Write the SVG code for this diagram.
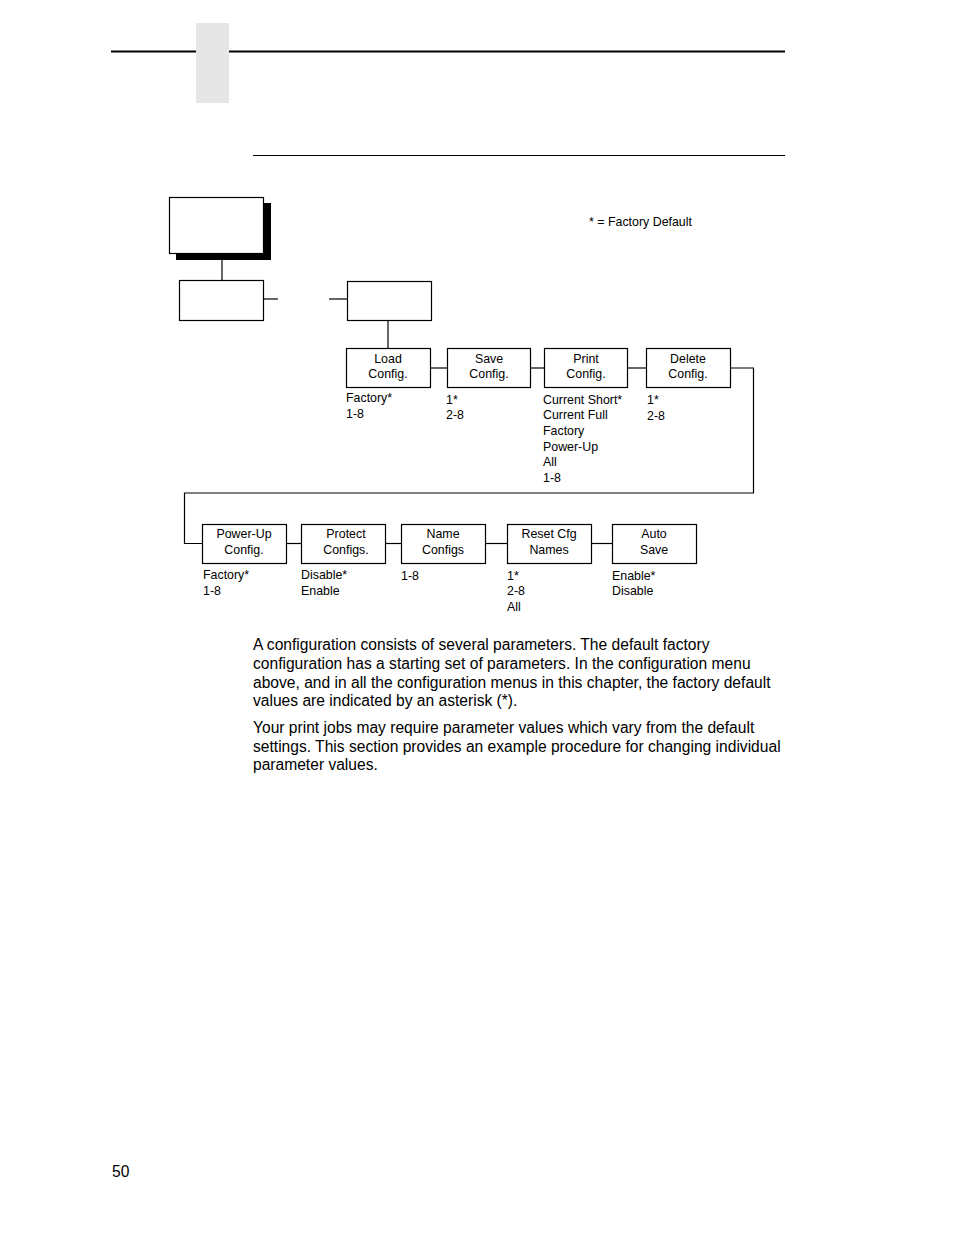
<svg xmlns="http://www.w3.org/2000/svg" width="954" height="1235" viewBox="0 0 954 1235">
<style>
.bx{fill:#fff;stroke:#000;stroke-width:1.2}
.ln{fill:none;stroke:#000;stroke-width:1.2}
.t{font-family:"Liberation Sans",Arial,sans-serif;font-size:12.4px;fill:#000}
.c{text-anchor:middle}
.body{font-family:"Liberation Sans",Arial,sans-serif;font-size:15.6px;fill:#000}
</style>
<rect width="954" height="1235" fill="#fff"/>
<g id="header">
<rect x="196" y="23" width="33" height="80" fill="#e6e6e6"/>
<line x1="111" y1="51.5" x2="196" y2="51.5" stroke="#000" stroke-width="2"/>
<line x1="229" y1="51.5" x2="785" y2="51.5" stroke="#000" stroke-width="2"/>
<line x1="253" y1="155.5" x2="785" y2="155.5" stroke="#000" stroke-width="1"/>
</g>
<g id="connectors">
<line class="ln" x1="222" y1="260" x2="222" y2="280"/>
<line class="ln" x1="264" y1="299" x2="278" y2="299"/>
<line class="ln" x1="329" y1="299" x2="347" y2="299"/>
<line class="ln" x1="388" y1="320" x2="388" y2="348"/>
<line class="ln" x1="430" y1="368" x2="447" y2="368"/>
<line class="ln" x1="531" y1="368" x2="544" y2="368"/>
<line class="ln" x1="628" y1="368" x2="646" y2="368"/>
<polyline class="ln" points="730,368 753.5,368 753.5,493 184.5,493 184.5,543.5 202,543.5"/>
<line class="ln" x1="286" y1="543.5" x2="301" y2="543.5"/>
<line class="ln" x1="385" y1="543.5" x2="401" y2="543.5"/>
<line class="ln" x1="485" y1="543.5" x2="507" y2="543.5"/>
<line class="ln" x1="591" y1="543.5" x2="612" y2="543.5"/>
</g>
<g id="main">
<rect x="176" y="203" width="95" height="57" fill="#000"/>
<rect class="bx" x="169.5" y="197.5" width="94" height="56"/>
</g>
<g id="box2"><rect class="bx" x="179.5" y="280.5" width="84" height="40"/></g>
<g id="box3"><rect class="bx" x="347.5" y="281.5" width="84" height="39"/></g>
<g id="legend"><text class="t" x="589" y="226">* = Factory Default</text></g>
<g id="load">
<rect class="bx" x="346.5" y="348.5" width="84" height="39"/>
<text class="t c" x="388" y="363">Load</text>
<text class="t c" x="388" y="378">Config.</text>
<text class="t" x="346" y="402">Factory*</text>
<text class="t" x="346" y="418">1-8</text>
</g>
<g id="save">
<rect class="bx" x="447.5" y="348.5" width="83" height="39"/>
<text class="t c" x="489" y="363">Save</text>
<text class="t c" x="489" y="378">Config.</text>
<text class="t" x="446" y="404">1*</text>
<text class="t" x="446" y="419">2-8</text>
</g>
<g id="print">
<rect class="bx" x="544.5" y="348.5" width="83" height="39"/>
<text class="t c" x="586" y="363">Print</text>
<text class="t c" x="586" y="378">Config.</text>
<text class="t" x="543" y="404">Current Short*</text>
<text class="t" x="543" y="419">Current Full</text>
<text class="t" x="543" y="435">Factory</text>
<text class="t" x="543" y="451">Power-Up</text>
<text class="t" x="543" y="466">All</text>
<text class="t" x="543" y="482">1-8</text>
</g>
<g id="delete">
<rect class="bx" x="646.5" y="348.5" width="84" height="39"/>
<text class="t c" x="688" y="363">Delete</text>
<text class="t c" x="688" y="378">Config.</text>
<text class="t" x="647" y="404">1*</text>
<text class="t" x="647" y="420">2-8</text>
</g>
<g id="powerup">
<rect class="bx" x="202.5" y="524.5" width="84" height="39"/>
<text class="t c" x="244" y="538">Power-Up</text>
<text class="t c" x="244" y="554">Config.</text>
<text class="t" x="203" y="579">Factory*</text>
<text class="t" x="203" y="595">1-8</text>
</g>
<g id="protect">
<rect class="bx" x="301.5" y="524.5" width="84" height="39"/>
<text class="t c" x="346" y="538">Protect</text>
<text class="t c" x="346" y="554">Configs.</text>
<text class="t" x="301" y="579">Disable*</text>
<text class="t" x="301" y="595">Enable</text>
</g>
<g id="name">
<rect class="bx" x="401.5" y="524.5" width="84" height="39"/>
<text class="t c" x="443" y="538">Name</text>
<text class="t c" x="443" y="554">Configs</text>
<text class="t" x="401" y="580">1-8</text>
</g>
<g id="reset">
<rect class="bx" x="507.5" y="524.5" width="84" height="39"/>
<text class="t c" x="549" y="538">Reset Cfg</text>
<text class="t c" x="549" y="554">Names</text>
<text class="t" x="507" y="580">1*</text>
<text class="t" x="507" y="595">2-8</text>
<text class="t" x="507" y="611">All</text>
</g>
<g id="autosave">
<rect class="bx" x="612.5" y="524.5" width="84" height="39"/>
<text class="t c" x="654" y="538">Auto</text>
<text class="t c" x="654" y="554">Save</text>
<text class="t" x="612" y="580">Enable*</text>
<text class="t" x="612" y="595">Disable</text>
</g>
<g id="bodytext">
<text class="body" x="253" y="650">A configuration consists of several parameters. The default factory</text>
<text class="body" x="253" y="669">configuration has a starting set of parameters. In the configuration menu</text>
<text class="body" x="253" y="688">above, and in all the configuration menus in this chapter, the factory default</text>
<text class="body" x="253" y="706">values are indicated by an asterisk (*).</text>
<text class="body" x="253" y="733">Your print jobs may require parameter values which vary from the default</text>
<text class="body" x="253" y="752">settings. This section provides an example procedure for changing individual</text>
<text class="body" x="253" y="770">parameter values.</text>
<text class="body" x="112" y="1177">50</text>
</g>
</svg>
